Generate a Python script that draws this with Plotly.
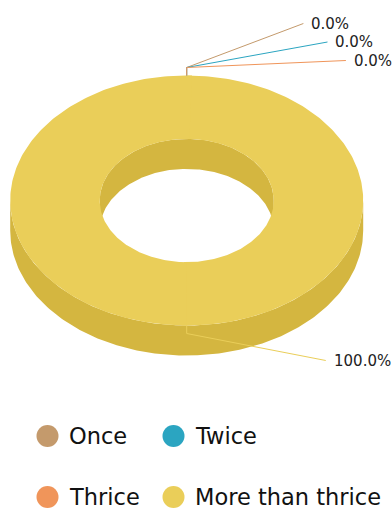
import numpy as np
import plotly.graph_objects as go

# ---- data ----
categories = ["Once", "Twice", "Thrice", "More than thrice"]
values = [0, 0, 0, 100]
top_colors = ["#C49A6C", "#2BA5C1", "#F0955A", "#EACE59"]
side_colors = ["#B0885A", "#2592AB", "#D98349", "#D4B640"]

# ---- layout constants (pixel space) ----
W, H = 392, 511
CX, CY = 186.7, 200.5
RX, RY = 176.5, 125.0
INNER = 0.493
DEPTH = 30.0
LABEL_R = 212.0
LABEL_STEP = 18.5
FONT = "DejaVu Sans"
EPS = 0.03

total = float(sum(values))
fracs = [v / total for v in values]
pcts = [f"{100 * f:.1f}%" for f in fracs]

start = -np.pi / 2
angles = []
a = start
for f in fracs:
    angles.append((a, a + 2 * np.pi * f))
    a += 2 * np.pi * f


def arc(a0, a1, rx, ry, dy=0.0):
    n = max(2, int(abs(a1 - a0) / (2 * np.pi) * 360) + 2)
    t = np.linspace(a0, a1, n)
    return CX + rx * np.cos(t), CY + dy + ry * np.sin(t)


def clip(a0, a1, ranges):
    out = []
    for r0, r1 in ranges:
        lo, hi = max(a0, r0), min(a1, r1)
        if hi > lo + 1e-9:
            out.append((lo, hi))
    # merge pieces touching across the start angle (mod 2pi)
    if len(out) >= 2:
        first, last = out[0], out[-1]
        if abs(first[0] - start) < 1e-9 and abs(last[1] - (start + 2 * np.pi)) < 1e-9:
            out = [(last[0], first[1] + 2 * np.pi)] + out[1:-1]
    return out


fig = go.Figure()


def add_fill(x, y, color):
    fig.add_trace(go.Scatter(x=x, y=y, mode="lines", fill="toself",
                             fillcolor=color, line=dict(width=0, color=color),
                             hoverinfo="skip", showlegend=False))


def band(b0, b1, r1x, r1y, d1, r2x, r2y, d2, color):
    x1, y1 = arc(b0, b1, r1x, r1y, d1)
    x2, y2 = arc(b1, b0, r2x, r2y, d2)
    add_fill(np.concatenate([x1, x2]), np.concatenate([y1, y2]), color)


front = [(0.0, np.pi)]
back = [(-np.pi / 2, 0.0), (np.pi, 3 * np.pi / 2)]

# outer side walls (front half)
for i, (a0, a1) in enumerate(angles):
    for b0, b1 in clip(a0, a1, front):
        band(b0, b1, RX, RY, 0, RX, RY, DEPTH, side_colors[i])

# inner walls (back half, seen through the hole)
for i, (a0, a1) in enumerate(angles):
    for b0, b1 in clip(a0, a1, back):
        band(b0, b1, RX * INNER, RY * INNER, 0, RX * INNER, RY * INNER, DEPTH, side_colors[i])

# top faces (split into overlapping pieces to avoid seams)
for i, (a0, a1) in enumerate(angles):
    span = a1 - a0
    if span < 1e-9:
        continue
    full = span > 2 * np.pi - 1e-6
    npieces = int(np.ceil(span / np.pi))
    step = span / npieces
    for k in range(npieces):
        p0 = a0 + k * step
        p1 = p0 + step
        if k < npieces - 1 or full:
            p1 += EPS
        band(p0, p1, RX, RY, 0, RX * INNER, RY * INNER, 0, top_colors[i])

# labels with leader lines
mids = [(a0 + a1) / 2 for a0, a1 in angles]
ys = []
for m in mids:
    s = np.sin(m)
    ys.append(CY + (RY + 15) * s + (20 if s > 0 else 0))
for i in range(len(ys) - 2, -1, -1):
    ys[i] = min(ys[i], ys[i + 1] - LABEL_STEP)

annotations = []
for i, m in enumerate(mids):
    xa, ya = CX + RX * np.cos(m), CY + RY * np.sin(m)
    xt, yt = xa + 8 * np.cos(m), ya + 8 * np.sin(m)
    ye = ys[i]
    dy = ye - CY
    xe = CX + np.sqrt(max(LABEL_R ** 2 - dy ** 2, 0))
    fig.add_trace(go.Scatter(x=[xa, xt, xe], y=[ya, yt, ye], mode="lines",
                             line=dict(color=top_colors[i], width=1),
                             hoverinfo="skip", showlegend=False))
    annotations.append(dict(x=xe + 6, y=ye, text=pcts[i], showarrow=False,
                            xanchor="left", yanchor="middle",
                            font=dict(family=FONT, size=15, color="#222")))

# legend (manual grid)
leg_cols = [47.5, 173.5]
leg_rows = [436, 497]
lx, ly = [], []
for i, c in enumerate(categories):
    x0 = leg_cols[i % 2]
    y0 = leg_rows[i // 2]
    lx.append(x0)
    ly.append(y0)
    annotations.append(dict(x=x0 + 19, y=y0, text=c, showarrow=False,
                            xanchor="left", yanchor="middle",
                            font=dict(family=FONT, size=22.5, color="#111")))
fig.add_trace(go.Scatter(x=lx, y=ly, mode="markers",
                         marker=dict(size=22, color=top_colors, line=dict(width=0)),
                         hoverinfo="skip", showlegend=False))

fig.update_layout(
    width=W, height=H,
    margin=dict(l=0, r=0, t=0, b=0),
    paper_bgcolor="white", plot_bgcolor="white",
    xaxis=dict(range=[0, W], visible=False, fixedrange=True),
    yaxis=dict(range=[H, 0], visible=False, fixedrange=True),
    annotations=annotations,
    showlegend=False,
)

fig.write_html("out.html", config={"displayModeBar": False},
               post_script="document.body.style.margin='0';document.body.style.overflow='hidden';")
